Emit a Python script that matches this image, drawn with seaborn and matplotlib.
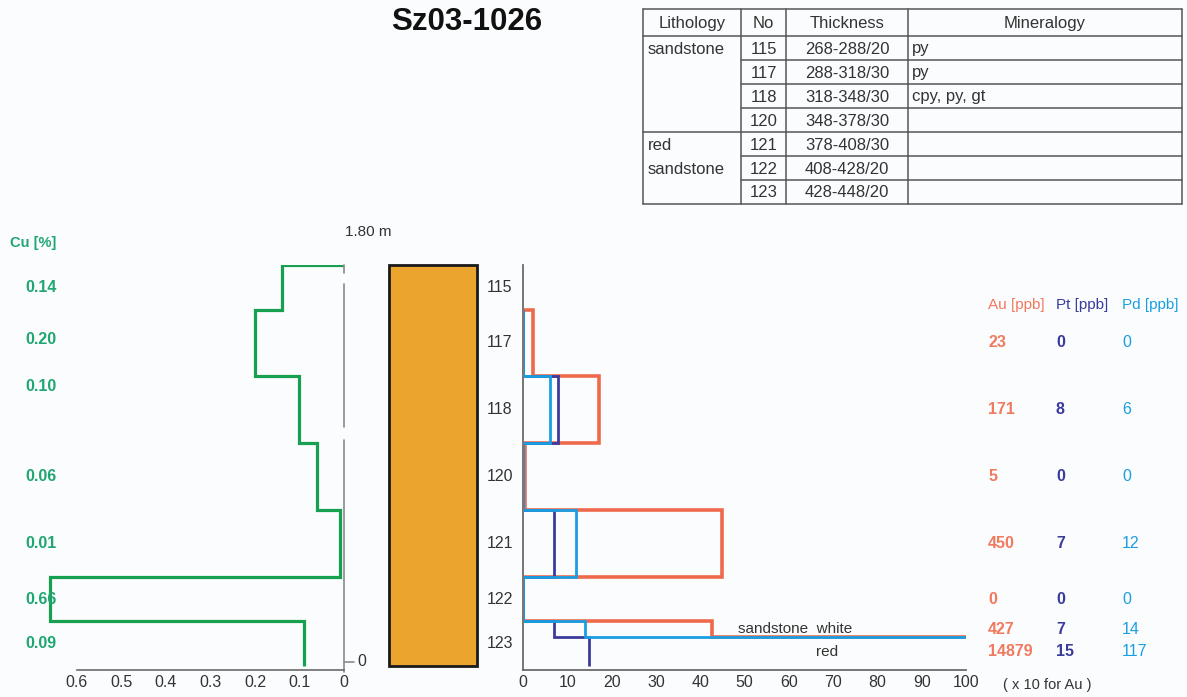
import numpy as np
import matplotlib
matplotlib.use("Agg")
import matplotlib.pyplot as plt
import matplotlib.transforms as mtransforms
from matplotlib.patches import Rectangle
from matplotlib.lines import Line2D
import seaborn as sns

# ---------------- data ----------------
title = "Sz03-1026"
samples = ["115", "117", "118", "120", "121", "122", "123"]
depth_top = [268, 288, 318, 348, 378, 408, 428]
depth_bottom = [288, 318, 348, 378, 408, 428, 448]
cu_pct = [0.14, 0.20, 0.10, 0.06, 0.01, 0.66, 0.09]

# noble metals (sample 123 split into white / red sandstone part)
pgm_top = [288, 318, 348, 378, 408, 428, 435]
pgm_bottom = [318, 348, 378, 408, 428, 435, 448]
au_ppb = [23, 171, 5, 450, 0, 427, 14879]
pt_ppb = [0, 8, 0, 7, 0, 7, 15]
pd_ppb = [0, 6, 0, 12, 0, 14, 117]

table_header = ["Lithology", "No", "Thickness", "Mineralogy"]
table_lithology = ["sandstone", "", "", "", "red", "sandstone", ""]
table_no = samples
table_thickness = ["268-288/20", "288-318/30", "318-348/30", "348-378/30",
                   "378-408/30", "408-428/20", "428-448/20"]
table_mineralogy = ["py", "py", "cpy, py, gt", "", "", "", ""]

cu_ticks = [0, 0.1, 0.2, 0.3, 0.4, 0.5, 0.6]
conc_ticks = list(range(0, 101, 10))

# ---------------- style ----------------
BG = "#fbfcfd"
C_CU = "#17a04f"
C_CU_TXT = "#1fa672"
C_AU = "#ef6a4c"
C_AU_TXT = "#f07a5e"
C_PT = "#3b3b9c"
C_PD = "#1a9ee2"
C_ORANGE = "#eba52f"
C_AXIS = "#6a6a6a"
C_TXT = "#333333"

sns.set_style("white")
plt.rcParams["font.family"] = ["Liberation Sans", "DejaVu Sans"]

W, H = 1187, 697
fig = plt.figure(figsize=(W / 100, H / 100), dpi=100, facecolor=BG)


def fx(px):
    return px / W


def fy(py):
    return 1 - py / H


def rect(x0, y0, x1, y1):
    return [fx(x0), fy(y1), (x1 - x0) / W, (y1 - y0) / H]


TOP_PX, BOT_PX, AX_BOT_PX = 265, 666, 669.5
px_per_cm = (BOT_PX - TOP_PX) / (depth_bottom[-1] - depth_top[0])
y_low = depth_top[0] + (AX_BOT_PX - TOP_PX) / px_per_cm


def step_path(tops, bottoms, values):
    xs, ys = [0.0], [tops[0]]
    for t, b, v in zip(tops, bottoms, values):
        xs += [v, v]
        ys += [t, b]
    return np.array(xs, float), np.array(ys, float)


line_kw = dict(sort=False, estimator=None, solid_joinstyle="miter",
               solid_capstyle="butt")

# ---------------- Cu panel ----------------
cu_scale = 445.0
cu_xmax = (344 - 23.6) / cu_scale
ax_cu = fig.add_axes(rect(23.6, TOP_PX, 344, AX_BOT_PX))
ax_cu.set_facecolor("none")
ax_cu.set_xlim(cu_xmax, 0)
ax_cu.set_ylim(y_low, depth_top[0])
xs, ys = step_path(depth_top, depth_bottom, cu_pct)
sns.lineplot(x=xs, y=ys, ax=ax_cu, color=C_CU, lw=2.3, **line_kw)
# depth scale line (with small breaks)
for a, b in [(268, 271.5), (276.5, 340.5), (346.5, y_low + 1.2)]:
    ax_cu.plot([0, 0], [a, b], color="#8a8a8a", lw=1.2, clip_on=False)
ax_cu.plot([0, -0.022], [446, 446], color="#8a8a8a", lw=1.2, clip_on=False)
for s in ["top", "right", "left"]:
    ax_cu.spines[s].set_visible(False)
ax_cu.spines["bottom"].set_bounds(0, 0.6)
ax_cu.spines["bottom"].set_color(C_AXIS)
ax_cu.spines["bottom"].set_linewidth(1.2)
ax_cu.set_xticks(cu_ticks)
ax_cu.set_xticklabels([f"{t:g}" for t in cu_ticks])
ax_cu.set_yticks([])
ax_cu.tick_params(axis="x", direction="in", length=5, width=1.1,
                  colors=C_AXIS, labelcolor=C_TXT, labelsize=11.5, pad=4)
ax_cu.set_xlabel("")
ax_cu.set_ylabel("")
ax_cu.text(-0.03, 446, "0", ha="left", va="center", fontsize=11.5, color=C_TXT)
fig.text(fx(345), fy(232), "1.80 m", ha="left", va="center", fontsize=11, color=C_TXT)

fig.text(fx(10), fy(243), "Cu [%]", ha="left", va="center", fontsize=10.5,
         color=C_CU_TXT, fontweight="bold")
tr_cu = mtransforms.blended_transform_factory(fig.transFigure, ax_cu.transData)
cu_label_shift = [0, -1.5, -10.5, 0, 0, 0, 0]
for t, b, v, sh in zip(depth_top, depth_bottom, cu_pct, cu_label_shift):
    ax_cu.text(fx(41), (t + b) / 2 + sh, f"{v:.2f}", transform=tr_cu,
               ha="center", va="center", fontsize=11.5, color=C_CU_TXT,
               fontweight="bold")

# ---------------- lithology column ----------------
fig.add_artist(Rectangle((fx(389), fy(666)), (477 - 389) / W, (666 - 265) / H,
                         transform=fig.transFigure, facecolor=C_ORANGE,
                         edgecolor="#1a1a1a", lw=2))

# ---------------- Au / Pt / Pd panel ----------------
ax = fig.add_axes(rect(523, TOP_PX, 966, AX_BOT_PX))
ax.set_facecolor("none")
ax.set_xlim(0, 100)
ax.set_ylim(y_low, depth_top[0])
n_before = len(ax.lines)
xs, ys = step_path(pgm_top, pgm_bottom, np.array(au_ppb) / 10.0)
sns.lineplot(x=xs, y=ys, ax=ax, color=C_AU, lw=2.6, **line_kw)
xs, ys = step_path(pgm_top, pgm_bottom, pt_ppb)
sns.lineplot(x=xs, y=ys, ax=ax, color=C_PT, lw=2.0, **line_kw)
xs, ys = step_path(pgm_top, pgm_bottom, pd_ppb)
sns.lineplot(x=xs, y=ys, ax=ax, color=C_PD, lw=2.0, **line_kw)
# hide the parts of the profiles that run along the zero axis
clip = Rectangle((0.3, 200), 99.7, 400, transform=ax.transData)
for ln in ax.lines[n_before:]:
    ln.set_clip_path(clip)
for s in ["top", "right"]:
    ax.spines[s].set_visible(False)
for s in ["left", "bottom"]:
    ax.spines[s].set_color(C_AXIS)
    ax.spines[s].set_linewidth(1.3)
    ax.spines[s].set_zorder(5)
ax.set_xticks(conc_ticks)
ax.set_yticks([])
ax.tick_params(axis="x", direction="in", length=5, width=1.1,
               colors=C_AXIS, labelcolor=C_TXT, labelsize=11.5, pad=4)
ax.set_xlabel("")
ax.set_ylabel("")
fig.text(fx(1003), fy(685), "( x 10 for Au )", ha="left", va="center",
         fontsize=10.5, color=C_TXT)

tr = mtransforms.blended_transform_factory(ax.transAxes, ax.transData)
for s, t, b in zip(samples, depth_top, depth_bottom):
    ax.text((500 - 523) / 443, (t + b) / 2, s, transform=tr, ha="center",
            va="center", fontsize=11.5, color=C_TXT)

trf = mtransforms.blended_transform_factory(fig.transFigure, ax.transData)
ax.text(fx(795), 431.2, "sandstone  white", transform=trf, ha="center", va="center",
        fontsize=11, color=C_TXT)
ax.text(fx(827), 441.5, "red", transform=trf, ha="center", va="center",
        fontsize=11, color=C_TXT)

# value columns
fig.text(fx(988), fy(305), "Au [ppb]", ha="left", va="center", fontsize=11, color=C_AU_TXT)
fig.text(fx(1056), fy(305), "Pt [ppb]", ha="left", va="center", fontsize=11, color=C_PT)
fig.text(fx(1122), fy(305), "Pd [ppb]", ha="left", va="center", fontsize=11, color=C_PD)
for t, b, au, pt, pdv in zip(pgm_top, pgm_bottom, au_ppb, pt_ppb, pd_ppb):
    ym = (t + b) / 2
    ax.text(fx(988), ym, str(au), transform=trf, ha="left", va="center",
            fontsize=11.5, color=C_AU_TXT, fontweight="bold")
    ax.text(fx(1056), ym, str(pt), transform=trf, ha="left", va="center",
            fontsize=11.5, color=C_PT, fontweight="bold")
    ax.text(fx(1122), ym, str(pdv), transform=trf, ha="left", va="center",
            fontsize=11.5, color=C_PD)

# ---------------- title ----------------
fig.text(fx(467), fy(22), title, ha="center", va="center", fontsize=22.5,
         fontweight="bold", color="#111111")

# ---------------- table ----------------
col_x = [643, 741, 786, 908, 1182]
row_y = [9, 36, 60, 84, 108, 132, 156, 180, 204]
LC = "#555555"


def hline(y, x0, x1):
    fig.add_artist(Line2D([fx(x0), fx(x1)], [fy(y), fy(y)], transform=fig.transFigure,
                          color=LC, lw=1.1))


def vline(x, y0, y1):
    fig.add_artist(Line2D([fx(x), fx(x)], [fy(y0), fy(y1)], transform=fig.transFigure,
                          color=LC, lw=1.1))


for i, y in enumerate(row_y):
    if i in (0, 1, 5, 8):
        hline(y, col_x[0], col_x[-1])
    else:
        hline(y, col_x[1], col_x[-1])
for x in col_x:
    vline(x, row_y[0], row_y[-1])

for j, h in enumerate(table_header):
    fig.text(fx((col_x[j] + col_x[j + 1]) / 2), fy((row_y[0] + row_y[1]) / 2 + 1), h,
             ha="center", va="center", fontsize=12, color=C_TXT)
for i in range(len(table_no)):
    yc = fy((row_y[i + 1] + row_y[i + 2]) / 2 + 1)
    fig.text(fx(col_x[0] + 5), yc, table_lithology[i], ha="left", va="center",
             fontsize=12, color=C_TXT)
    fig.text(fx((col_x[1] + col_x[2]) / 2), yc, table_no[i], ha="center", va="center",
             fontsize=12, color=C_TXT)
    fig.text(fx((col_x[2] + col_x[3]) / 2), yc, table_thickness[i], ha="center",
             va="center", fontsize=12, color=C_TXT)
    fig.text(fx(col_x[3] + 4), yc, table_mineralogy[i], ha="left", va="center",
             fontsize=12, color=C_TXT)

fig.savefig("out.png", dpi=100, facecolor=BG)
